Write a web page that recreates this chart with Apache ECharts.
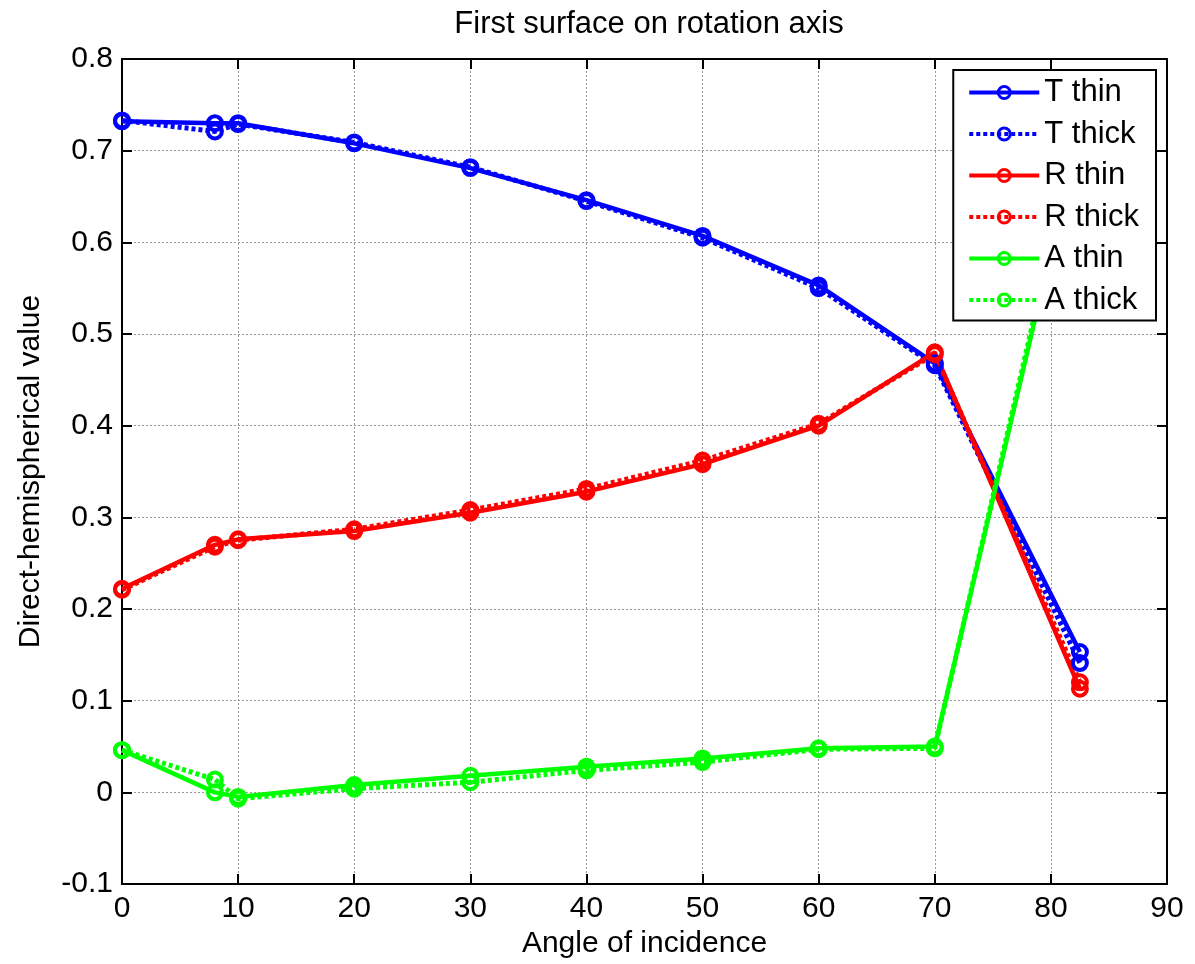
<!DOCTYPE html>
<html>
<head>
<meta charset="utf-8">
<title>First surface on rotation axis</title>
<script src="https://cdn.jsdelivr.net/npm/echarts@6/dist/echarts.min.js"></script>
<style>
    html, body { margin: 0; padding: 0; background: #fff; }
    #chart { width: 1195px; height: 964px; }
</style>
</head>
<body>
<div id="chart"></div>
<script>
// angle of incidence (deg)
var angles = [0, 8, 10, 20, 30, 40, 50, 60, 70, 82.5];

var tThin = [0.732, 0.730, 0.730, 0.708, 0.681, 0.646, 0.607, 0.553, 0.468, 0.153];
var tThick = [0.733, 0.721, 0.729, 0.709, 0.682, 0.645, 0.605, 0.550, 0.466, 0.141];
var rThin = [0.222, 0.270, 0.276, 0.285, 0.305, 0.328, 0.358, 0.400, 0.480, 0.113];
var rThick = [0.221, 0.268, 0.275, 0.287, 0.308, 0.331, 0.362, 0.402, 0.478, 0.120];
var aThin = [0.046, 0.000, -0.005, 0.008, 0.018, 0.028, 0.037, 0.048, 0.050, 0.725];
var aThick = [0.046, 0.014, -0.007, 0.004, 0.011, 0.024, 0.033, 0.047, 0.048, 0.735];

var xTicks = [0, 10, 20, 30, 40, 50, 60, 70, 80, 90];
var yTicks = [-0.1, 0, 0.1, 0.2, 0.3, 0.4, 0.5, 0.6, 0.7, 0.8];

var FONT = "Liberation Sans, Arial, sans-serif";

function pairs(ys) {
    return angles.map(function (x, i) { return [x, ys[i]]; });
}

// open circles, line shows through like matlab 'o' markers
function makeSeries(name, ys, color, dashed) {
    return {
        name: name,
        type: "line",
        data: pairs(ys),
        symbol: "circle",
        symbolSize: 14,
        showSymbol: true,
        color: color,
        itemStyle: { color: "rgba(255,255,255,0)", borderColor: color, borderWidth: 4 },
        lineStyle: { color: color, width: dashed ? 5 : 4.5, type: dashed ? [4, 3] : "solid" },
        emphasis: { disabled: true },
        animation: false
    };
}

var chart = echarts.init(document.getElementById("chart"));

var tickLabel = function (v) {
    var r = Math.round(v * 10) / 10;
    return r === 0 ? "0" : r.toFixed(1);
};

var options = {
    backgroundColor: "#fff",
    animation: false,
    title: {
        text: "First surface on rotation axis",
        left: 644,
        top: 4,
        textAlign: "center",
        textStyle: { fontFamily: FONT, fontSize: 31, fontWeight: "normal", color: "#000" }
    },
    legend: {
        orient: "vertical",
        right: 39,
        top: 70,
        padding: [7, 17, 5, 14],
        itemWidth: 70,
        itemHeight: 15,
        itemGap: 10.5,
        backgroundColor: "#fff",
        borderColor: "#000",
        borderWidth: 2,
        lineStyle: { width: 4 },
        itemStyle: { borderWidth: 3 },
        textStyle: { fontFamily: FONT, fontSize: 31, color: "#000", lineHeight: 30 },
        data: ["T thin", "T thick", "R thin", "R thick", "A thin", "A thick"]
    },
    grid: { left: 122, top: 59, width: 1045, height: 825, containLabel: false },
    xAxis: [
        {
            type: "value",
            min: xTicks[0],
            max: xTicks[xTicks.length - 1],
            interval: 10,
            name: "Angle of incidence",
            nameLocation: "middle",
            nameGap: 39,
            nameTextStyle: { fontFamily: FONT, fontSize: 30, color: "#000" },
            axisLine: { onZero: false, lineStyle: { color: "#000", width: 2 } },
            axisTick: { inside: true, length: 10, lineStyle: { color: "#000", width: 2 } },
            axisLabel: { fontFamily: FONT, fontSize: 30, color: "#000", margin: 10 },
            splitLine: { show: true, lineStyle: { color: "#999", width: 1, type: [2, 2] } }
        },
        {
            type: "value",
            position: "top",
            min: xTicks[0],
            max: xTicks[xTicks.length - 1],
            interval: 10,
            axisLine: { onZero: false, lineStyle: { color: "#000", width: 2 } },
            axisTick: { inside: true, length: 10, lineStyle: { color: "#000", width: 2 } },
            axisLabel: { show: false },
            splitLine: { show: false }
        }
    ],
    yAxis: [
        {
            type: "value",
            min: yTicks[0],
            max: yTicks[yTicks.length - 1],
            interval: 0.1,
            name: "Direct-hemispherical value",
            nameLocation: "middle",
            nameGap: 76,
            nameTextStyle: { fontFamily: FONT, fontSize: 30, color: "#000" },
            axisLine: { onZero: false, lineStyle: { color: "#000", width: 2 } },
            axisTick: { inside: true, length: 10, lineStyle: { color: "#000", width: 2 } },
            axisLabel: { fontFamily: FONT, fontSize: 30, color: "#000", margin: 9, formatter: tickLabel },
            splitLine: { show: true, lineStyle: { color: "#999", width: 1, type: [2, 2] } }
        },
        {
            type: "value",
            position: "right",
            min: yTicks[0],
            max: yTicks[yTicks.length - 1],
            interval: 0.1,
            axisLine: { onZero: false, lineStyle: { color: "#000", width: 2 } },
            axisTick: { inside: true, length: 10, lineStyle: { color: "#000", width: 2 } },
            axisLabel: { show: false },
            splitLine: { show: false }
        }
    ],
    series: [
        makeSeries("T thin", tThin, "#0000ff", false),
        makeSeries("T thick", tThick, "#0000ff", true),
        makeSeries("R thin", rThin, "#ff0000", false),
        makeSeries("R thick", rThick, "#ff0000", true),
        makeSeries("A thin", aThin, "#00ff00", false),
        makeSeries("A thick", aThick, "#00ff00", true)
    ]
};

chart.setOption(options, true);
</script>
</body>
</html>
